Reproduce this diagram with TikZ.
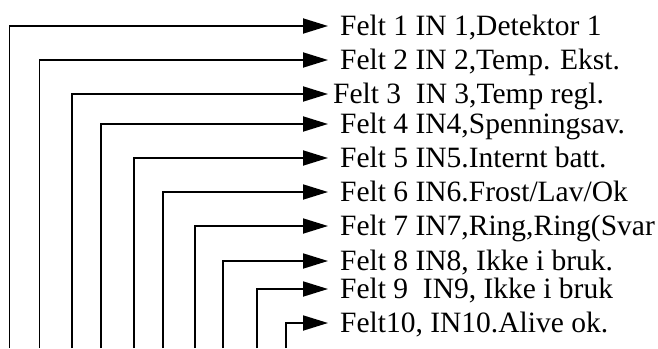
\documentclass[tikz,border=0pt]{standalone}
\usepackage{fontspec}
\setmainfont{Liberation Serif}
\usetikzlibrary{arrows.meta}
\tikzset{
  feed/.style={line width=1.8pt, -{Triangle[length=25pt,width=15pt]}},
  felt/.style={anchor=west, inner ysep=0pt, inner xsep=12pt,
    text height=19pt, text depth=0pt, font=\fontsize{29.5}{34}\selectfont}
}
\begin{document}
\begin{tikzpicture}[x=1pt,y=-1pt]
    \useasboundingbox (0,0) rectangle (658,348);

    % Field labels
    \node[felt] (f1) at (328,26) {Felt 1 IN 1,Detektor 1};
    \node[felt] (f2) at (328,60) {Felt 2 IN 2,Temp. Ekst.};
    \node[felt, inner xsep=5pt] (f3) at (328,94) {Felt 3\ \ IN 3,Temp regl.};
    \node[felt] (f4) at (328,124) {Felt 4 IN4,Spenningsav.};
    \node[felt] (f5) at (328,158) {Felt 5 IN5.Internt batt.};
    \node[felt] (f6) at (328,192) {Felt 6 IN6.Frost/Lav/Ok};
    \node[felt] (f7) at (328,226) {Felt 7 IN7,Ring,Ring(Svar};
    \node[felt] (f8) at (328,261) {Felt 8 IN8, Ikke i bruk.};
    \node[felt] (f9) at (328,289) {Felt 9\ \ IN9, Ikke i bruk};
    \node[felt] (f10) at (328,323) {Felt10, IN10.Alive ok.};

    % Inputs from below
    \coordinate (in1) at (9.5,348);
    \coordinate (in2) at (39.5,348);
    \coordinate (in3) at (72,348);
    \coordinate (in4) at (101,348);
    \coordinate (in5) at (134,348);
    \coordinate (in6) at (163,348);
    \coordinate (in7) at (195,348);
    \coordinate (in8) at (223,348);
    \coordinate (in9) at (257,348);
    \coordinate (in10) at (286,348);

    % Lines
    \draw[feed] (in1) |- (f1.west);
    \draw[feed] (in2) |- (f2.west);
    \draw[feed] (in3) |- (f3.west);
    \draw[feed] (in4) |- (f4.west);
    \draw[feed] (in5) |- (f5.west);
    \draw[feed] (in6) |- (f6.west);
    \draw[feed] (in7) |- (f7.west);
    \draw[feed] (in8) |- (f8.west);
    \draw[feed] (in9) |- (f9.west);
    \draw[feed] (in10) |- (f10.west);
\end{tikzpicture}
\end{document}
